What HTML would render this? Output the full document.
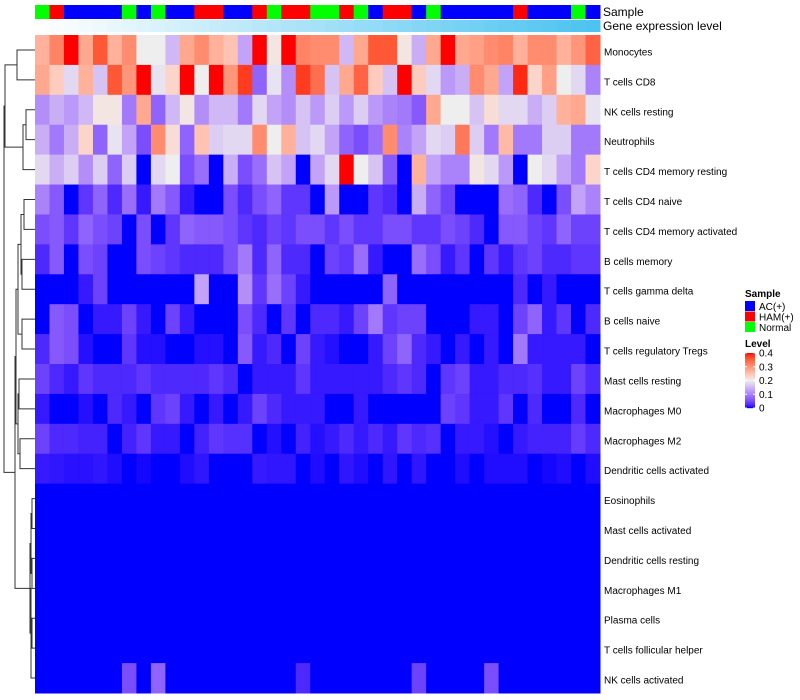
<!DOCTYPE html>
<html><head><meta charset="utf-8">
<style>
body{margin:0;background:#fff;width:800px;height:700px;overflow:hidden;font-family:"Liberation Sans",sans-serif;}
svg{display:block}
</style></head>
<body>
<svg id="chart" width="800" height="700"></svg>
<script>
const rowNames=["Monocytes","T cells CD8","NK cells resting","Neutrophils","T cells CD4 memory resting","T cells CD4 naive","T cells CD4 memory activated","B cells memory","T cells gamma delta","B cells naive","T cells regulatory  Tregs","Mast cells resting","Macrophages M0","Macrophages M2","Dendritic cells activated","Eosinophils","Mast cells activated","Dendritic cells resting","Macrophages M1","Plasma cells","T cells follicular helper","NK cells activated"];
const sampleGroups=["N","H","A","A","A","A","N","A","N","A","A","H","H","A","A","H","N","H","H","N","N","H","N","A","H","H","A","N","A","A","A","A","A","H","A","A","A","N","A"];
const legendLabels=["AC(+)","HAM(+)","Normal"];
const levelTicks=[0.4,0.3,0.2,0.1,0];
const Z=new Array(39).fill(0);
const values=[
[0.27,0.32,0.4,0.28,0.36,0.27,0.31,0.2,0.2,0.15,0.28,0.31,0.27,0.25,0.13,0.4,0.21,0.4,0.32,0.31,0.31,0.15,0.28,0.36,0.36,0.21,0.14,0.28,0.4,0.28,0.29,0.31,0.32,0.27,0.31,0.31,0.27,0.3,0.35],
[0.28,0.24,0.18,0.27,0.16,0.36,0.3,0.4,0.19,0.23,0.4,0.2,0.4,0.3,0.38,0.07,0.19,0.11,0.38,0.34,0.16,0.28,0.35,0.24,0.16,0.4,0.24,0.18,0.12,0.14,0.31,0.28,0.13,0.39,0.23,0.29,0.2,0.18,0.1],
[0.11,0.14,0.12,0.15,0.21,0.21,0.09,0.28,0.07,0.15,0.21,0.11,0.15,0.15,0.09,0.18,0.13,0.11,0.16,0.12,0.17,0.12,0.17,0.12,0.1,0.09,0.06,0.28,0.2,0.2,0.16,0.22,0.18,0.18,0.14,0.17,0.27,0.28,0.19],
[0.14,0.09,0.14,0.23,0.07,0.19,0.13,0.05,0.31,0.22,0.07,0.25,0.17,0.18,0.18,0.31,0.2,0.27,0.16,0.18,0.13,0.07,0.05,0.08,0.31,0.1,0.13,0.18,0.17,0.33,0.17,0.09,0.26,0.09,0.09,0.17,0.17,0.09,0.09],
[0.18,0.14,0.17,0.11,0.17,0.07,0.17,0,0.18,0.2,0.05,0.08,0,0.14,0.05,0.08,0.16,0.13,0,0.13,0.18,0.4,0.2,0.16,0.06,0,0.27,0.13,0.1,0.1,0.21,0.18,0.12,0,0.2,0.18,0.13,0.09,0.23],
[0.1,0.06,0,0.03,0.07,0.02,0.08,0.01,0.09,0.06,0.01,0,0,0.05,0.02,0.05,0.07,0.03,0.03,0,0.12,0,0,0.03,0.02,0,0.14,0.07,0.04,0,0,0,0.08,0.07,0.02,0,0.05,0.13,0.1],
[0.05,0.06,0.03,0.07,0.05,0.04,0,0.05,0,0.03,0.07,0.06,0.06,0.05,0.03,0.02,0.04,0.03,0.05,0.05,0.03,0.05,0.03,0.03,0.05,0.05,0.03,0.03,0.05,0.04,0.02,0,0.06,0.06,0.04,0.03,0.07,0.04,0.04],
[0.02,0.06,0,0.05,0.04,0,0,0.05,0.04,0.03,0.02,0.02,0.02,0.05,0.09,0.02,0.07,0.02,0.02,0,0.04,0.03,0.08,0.01,0,0,0.08,0.05,0.01,0.03,0,0.03,0.01,0.03,0.04,0.02,0.02,0.03,0.03],
[0,0,0,0.01,0.04,0,0,0,0,0,0,0.13,0,0,0.11,0.03,0.08,0.04,0.01,0,0,0,0,0,0.07,0,0,0,0,0,0,0,0,0.02,0,0.01,0,0,0],
[0,0.06,0.05,0,0.01,0.01,0.04,0.01,0,0.04,0.01,0,0,0,0.05,0.02,0,0.03,0,0.02,0.02,0.01,0.04,0.09,0.03,0.04,0.04,0,0,0,0.01,0.01,0,0.04,0.07,0.01,0.03,0,0.02],
[0.02,0.06,0.05,0.005,0,0,0.03,0.005,0.005,0,0,0.005,0.005,0,0.06,0.01,0.02,0,0.04,0.01,0.005,0,0,0.01,0.04,0.07,0.02,0.01,0,0.01,0,0.01,0,0.09,0.01,0.01,0.01,0.01,0],
[0.04,0.02,0.01,0.03,0.02,0.02,0.02,0.03,0.02,0.02,0.02,0.02,0.03,0.02,0,0.01,0.01,0.01,0.03,0.01,0.01,0.01,0.01,0.01,0.02,0.03,0.02,0,0.03,0.04,0.01,0.01,0.02,0.02,0.025,0.01,0.01,0.04,0.02],
[0.01,0,0,0.005,0,0.02,0.01,0,0.03,0.04,0.01,0,0.01,0,0.01,0.04,0.02,0.01,0.01,0.01,0,0,0.01,0,0,0,0,0,0.04,0.03,0.01,0.01,0.03,0,0.02,0,0,0.02,0],
[0.04,0.02,0.02,0.015,0.015,0,0.015,0.03,0.01,0.01,0,0.015,0.03,0.025,0.025,0,0.005,0,0.015,0.005,0.01,0.02,0.01,0.02,0.01,0.03,0.02,0.025,0,0.01,0.01,0.005,0,0.01,0.015,0.015,0.015,0.035,0.02],
[0.01,0.008,0.006,0.006,0.008,0.004,0,0.002,0,0,0.004,0.008,0,0,0,0.01,0.008,0.008,0,0.004,0,0.008,0.004,0,0.008,0,0.008,0,0,0.004,0,0.004,0.004,0.004,0,0.002,0.004,0,0.004],
Z,Z,Z,Z,Z,Z,
[0,0,0,0,0,0,0.05,0,0.07,0,0,0,0,0,0,0,0,0,0.02,0,0,0,0,0,0,0,0.04,0,0,0,0,0.05,0,0,0,0,0,0,0]
];
const merges=[[0,1,18],[2,3,9],[-2,4,12],[-1,-3,30],[5,6,11],[7,8,13],[-5,-6,14],[9,10,13],[-7,-8,17],[11,12,16],[13,14,15],[-10,-11,17],[-9,-12,19],[15,16,3],[17,18,3],[-14,-15,4],[19,20,3],[-16,-17,5],[-13,-18,20],[-18,21,4],[-4,-19,31]];

const svg=document.getElementById('chart');
const NS='http://www.w3.org/2000/svg';
function el(t,a,p){const e=document.createElementNS(NS,t);for(const k in a)e.setAttribute(k,a[k]);(p||svg).appendChild(e);return e;}
const X0=35,X1=600,Y0=35,Y1=693;
const nC=sampleGroups.length,nR=rowNames.length;
const cw=(X1-X0)/nC,rh=(Y1-Y0)/nR;
const xPos=i=>X0+i*cw, yPos=j=>Y0+j*rh;
function toLin(c){c/=255;return c<=0.04045?c/12.92:Math.pow((c+0.055)/1.055,2.4);}
function fromLin(c){c=c<=0.0031308?12.92*c:1.055*Math.pow(c,1/2.4)-0.055;return Math.max(0,Math.min(255,Math.round(c*255)));}
function rgb2lab(r,g,b){r=toLin(r);g=toLin(g);b=toLin(b);let x=(0.4124*r+0.3576*g+0.1805*b)/0.95047,y=0.2126*r+0.7152*g+0.0722*b,z=(0.0193*r+0.1192*g+0.9505*b)/1.08883;const f=t=>t>0.008856?Math.cbrt(t):7.787*t+16/116;x=f(x);y=f(y);z=f(z);return[116*y-16,500*(x-y),200*(y-z)];}
function lab2rgb(L,a,bb){let y=(L+16)/116,x=a/500+y,z=y-bb/200;const fi=t=>t*t*t>0.008856?t*t*t:(t-16/116)/7.787;x=fi(x)*0.95047;y=fi(y);z=fi(z)*1.08883;const r=3.2406*x-1.5372*y-0.4986*z,g=-0.9689*x+1.8758*y+0.0415*z,b=0.0557*x-0.2040*y+1.0570*z;return`rgb(${fromLin(r)},${fromLin(g)},${fromLin(b)})`;}
const cB=rgb2lab(0,0,255),cW=rgb2lab(238,238,238),cR=rgb2lab(255,0,0);
function col(v){v=Math.max(0,Math.min(0.4,v));let a,b,t;if(v<0.2){a=cB;b=cW;t=v/0.2;}else{a=cW;b=cR;t=(v-0.2)/0.2;}return lab2rgb(a[0]+(b[0]-a[0])*t,a[1]+(b[1]-a[1])*t,a[2]+(b[2]-a[2])*t);}
const gColors={A:'#0000ff',H:'#ff0000',N:'#00ff00'};
const sampleBar=el('g',{});


sampleGroups.forEach((g,i)=>{const r=el('rect',{x:xPos(i),y:5,width:cw+0.5,height:14,fill:gColors[g]},sampleBar);

});
const geneBar=el('g',{});


for(let i=0;i<nC;i++){const t=i/(nC-1);const r=Math.round(255-(255-76)*t),g=Math.round(255-(255-195)*t),b=Math.round(255-(255-240)*t);
const c=el('rect',{x:xPos(i),y:20,width:cw+0.5,height:12,fill:`rgb(${r},${g},${b})`},geneBar);

}
let t=el('text',{x:603,y:16,'font-size':12,fill:'#000'});t.textContent='Sample';


t=el('text',{x:603,y:30,'font-size':12,fill:'#000'});t.textContent='Gene expression level';


const hm=el('g',{});


values.forEach((row,j)=>row.forEach((v,i)=>{const r=el('rect',{x:xPos(i),y:yPos(j),width:cw+0.5,height:rh+0.5,fill:col(v)},hm);

}));
rowNames.forEach((n,j)=>{const tx=el('text',{x:604,y:yPos(j)+rh/2+5.5,'font-size':10,fill:'#000'});tx.textContent=n;

});
const dg=el('g',{stroke:'#333','stroke-width':1,fill:'none'});


const nodes=[];
function info(k){return k>=0?{y:yPos(k)+rh/2,h:0}:nodes[-k-1];}
merges.forEach(m=>{const a=info(m[0]),b=info(m[1]);const x=X0-m[2],xa=X0-a.h,xb=X0-b.h;
el('path',{d:`M${xa},${a.y}H${x}V${b.y}H${xb}`},dg);nodes.push({y:(a.y+b.y)/2,h:m[2]});});
const lg=el('g',{});


t=el('text',{x:745,y:297,'font-size':10,'font-weight':'bold'},lg);t.textContent='Sample';


['A','H','N'].forEach((g,i)=>{const r=el('rect',{x:745,y:301+i*10.5,width:10,height:10,fill:gColors[g]},lg);


const tx=el('text',{x:759,y:310+i*10.5,'font-size':10},lg);tx.textContent=legendLabels[i];

});
t=el('text',{x:745,y:347,'font-size':10,'font-weight':'bold'},lg);t.textContent='Level';


const LY0=353,LY1=408;
for(let k=0;k<55;k++){const v=0.4*(1-k/54);el('rect',{x:745,y:LY0+k,width:10,height:1.2,fill:col(v)},lg);}
levelTicks.forEach(v=>{const y=LY0+(0.4-v)/0.4*(LY1-LY0);
el('line',{x1:745,x2:747,y1:y,y2:y,stroke:'#fff'},lg);el('line',{x1:753,x2:755,y1:y,y2:y,stroke:'#fff'},lg);
const tx=el('text',{x:759,y:y+3.5,'font-size':10},lg);tx.textContent=v===0?'0':String(v);

});
</script>
</body></html>
